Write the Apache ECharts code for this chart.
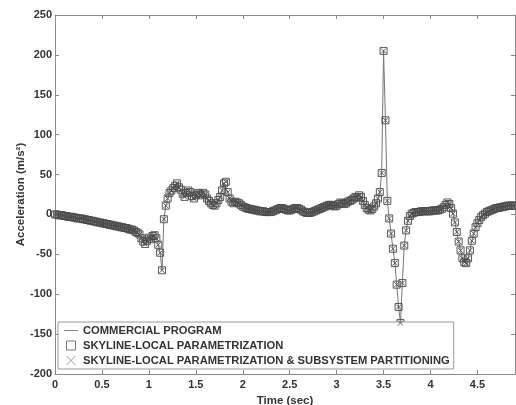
<!DOCTYPE html>
<html>
<head>
<meta charset="utf-8">
<script src="https://cdn.jsdelivr.net/npm/echarts@6/dist/echarts.min.js"></script>
<style>
  html, body { margin: 0; padding: 0; background: #fff; }
  #chart { width: 516px; height: 405px; }
</style>
</head>
<body>
<div id="chart"></div>
<script>
// Sampling step of the acceleration record (s)
const dt = 0.02;

// Vertical acceleration (m/s^2), one value per sample from t = 0 to t = 4.90 s
const acceleration = [
  0, 0, -1, -1, -1, -2, -2, -3, -3, -3,
  -4, -4, -5, -5, -5, -6, -6, -7, -7, -8,
  -8, -9, -9, -10, -10, -11, -11, -12, -12, -13,
  -13, -14, -14, -15, -15, -16, -16, -17, -17, -18,
  -19, -19, -20, -22, -23, -25, -30, -34, -37, -33,
  -29, -31, -27, -26, -30, -38, -48, -70, -6, 11,
  20, 27, 30, 33, 36, 39, 34, 31, 26, 22,
  27, 30, 28, 23, 20, 24, 27, 26, 24, 27,
  25, 20, 17, 14, 12, 11, 14, 18, 22, 30,
  39, 41, 28, 20, 16, 14, 16, 15, 14, 12,
  10, 9, 8, 7, 7, 6, 6, 5, 5, 4,
  4, 4, 3, 3, 3, 3, 4, 5, 6, 7,
  8, 8, 7, 6, 5, 5, 6, 7, 8, 8,
  7, 6, 4, 3, 2, 2, 2, 3, 4, 5,
  6, 7, 8, 9, 10, 11, 12, 12, 11, 10,
  11, 13, 15, 14, 13, 14, 16, 17, 18, 20,
  22, 21, 24, 22, 17, 12, 8, 6, 5, 7,
  10, 14, 20, 28, 52, 205, 118, 17, -5, -24,
  -43, -61, -88, -116, -136, -86, -39, -20, -8, -2,
  1, 2, 3, 3, 3, 4, 4, 4, 4, 4,
  4, 5, 5, 5, 5, 6, 7, 9, 12, 15,
  13, 8, 1, -10, -22, -34, -45, -55, -60, -61,
  -55, -45, -33, -24, -16, -11, -7, -3, -1, 1,
  3, 4, 5, 6, 7, 8, 8, 9, 9, 10,
  10, 11, 11, 11, 11, 11
];

// The three solutions coincide at this resolution
const commercial = acceleration;
const skylineLocal = acceleration;
const skylinePartition = acceleration;

const seriesNames = [
  'COMMERCIAL PROGRAM',
  'SKYLINE-LOCAL PARAMETRIZATION',
  'SKYLINE-LOCAL PARAMETRIZATION & SUBSYSTEM PARTITIONING'
];

const xTicks = { min: 0, max: 4.9, interval: 0.5 };
const yTicks = { min: -200, max: 250, interval: 50 };

const toPairs = vals => vals.map((v, i) => [+(i * dt).toFixed(2), v]);

const labelFont = { color: '#333', fontFamily: 'Liberation Sans, Arial, sans-serif', fontWeight: 'bold', fontSize: 11 };
const axisGray = '#8a8a8a';

const chart = echarts.init(document.getElementById('chart'), null, { renderer: 'canvas' });

const baseX = {
  type: 'value', min: xTicks.min, max: xTicks.max, interval: xTicks.interval,
  axisLine: { show: true, onZero: false, lineStyle: { color: axisGray, width: 1 } },
  axisTick: { show: true, inside: true, length: 4, lineStyle: { color: axisGray } },
  splitLine: { show: false }
};
const baseY = {
  type: 'value', min: yTicks.min, max: yTicks.max, interval: yTicks.interval,
  axisLine: { show: true, onZero: false, lineStyle: { color: axisGray, width: 1 } },
  axisTick: { show: true, inside: true, length: 4, lineStyle: { color: axisGray } },
  splitLine: { show: false }
};

chart.setOption({
  backgroundColor: '#fff',
  animation: false,
  grid: { left: 55, right: 1, top: 15, bottom: 31, containLabel: false, outerBoundsMode: 'none' },
  xAxis: [
    Object.assign({}, baseX, {
      position: 'bottom',
      name: 'Time (sec)', nameLocation: 'middle', nameGap: 20,
      nameTextStyle: Object.assign({}, labelFont, { fontSize: 11.5 }),
      axisLabel: Object.assign({}, labelFont, { margin: 5,
        formatter: v => (Math.abs(v - 4.9) < 1e-6 ? '' : String(v)) })
    }),
    Object.assign({}, baseX, { position: 'top', axisLabel: { show: false } })
  ],
  yAxis: [
    Object.assign({}, baseY, {
      position: 'left',
      name: 'Acceleration (m/s²)', nameLocation: 'middle', nameGap: 28, nameMoveOverlap: false,
      nameTextStyle: Object.assign({}, labelFont, { fontSize: 11.5 }),
      axisLabel: Object.assign({}, labelFont, { margin: 3 })
    }),
    Object.assign({}, baseY, { position: 'right', axisLabel: { show: false } })
  ],
  legend: {
    orient: 'vertical',
    left: 58, top: 322,
    padding: [3, 4, 3, 6],
    itemGap: 4,
    itemWidth: 14, itemHeight: 9,
    backgroundColor: '#fff',
    borderColor: '#999', borderWidth: 1,
    textStyle: Object.assign({}, labelFont, { fontSize: 11.2, padding: [0, 0, 0, 0] }),
    data: [
      { name: seriesNames[0], icon: 'path://M0,0H14V0.9H0Z',
        itemStyle: { color: '#777', borderWidth: 0 } },
      { name: seriesNames[1], icon: 'path://M0,0H8V8H0Z',
        itemStyle: { color: 'rgba(0,0,0,0)', borderColor: '#777', borderWidth: 1 } },
      { name: seriesNames[2], icon: 'path://M0,0L8,8M8,0L0,8',
        itemStyle: { color: 'rgba(0,0,0,0)', borderColor: '#999', borderWidth: 1 } }
    ]
  },
  series: [
    {
      name: seriesNames[0], type: 'line', data: toPairs(commercial),
      symbol: 'none', lineStyle: { color: '#777', width: 1 }, itemStyle: { color: '#777' }, z: 2
    },
    {
      name: seriesNames[1], type: 'line', data: toPairs(skylineLocal),
      symbol: 'rect', symbolSize: 7, showAllSymbol: true,
      lineStyle: { width: 0, opacity: 0 },
      itemStyle: { color: 'rgba(0,0,0,0)', borderColor: '#4a4a4a', borderWidth: 0.9 }, z: 3
    },
    {
      name: seriesNames[2], type: 'line', data: toPairs(skylinePartition),
      symbol: 'path://M0,0L8,8M8,0L0,8', symbolSize: 5, showAllSymbol: true,
      lineStyle: { width: 0, opacity: 0 },
      itemStyle: { color: 'rgba(0,0,0,0)', borderColor: '#4a4a4a', borderWidth: 0.9 }, z: 4
    }
  ]
});
</script>
</body>
</html>
